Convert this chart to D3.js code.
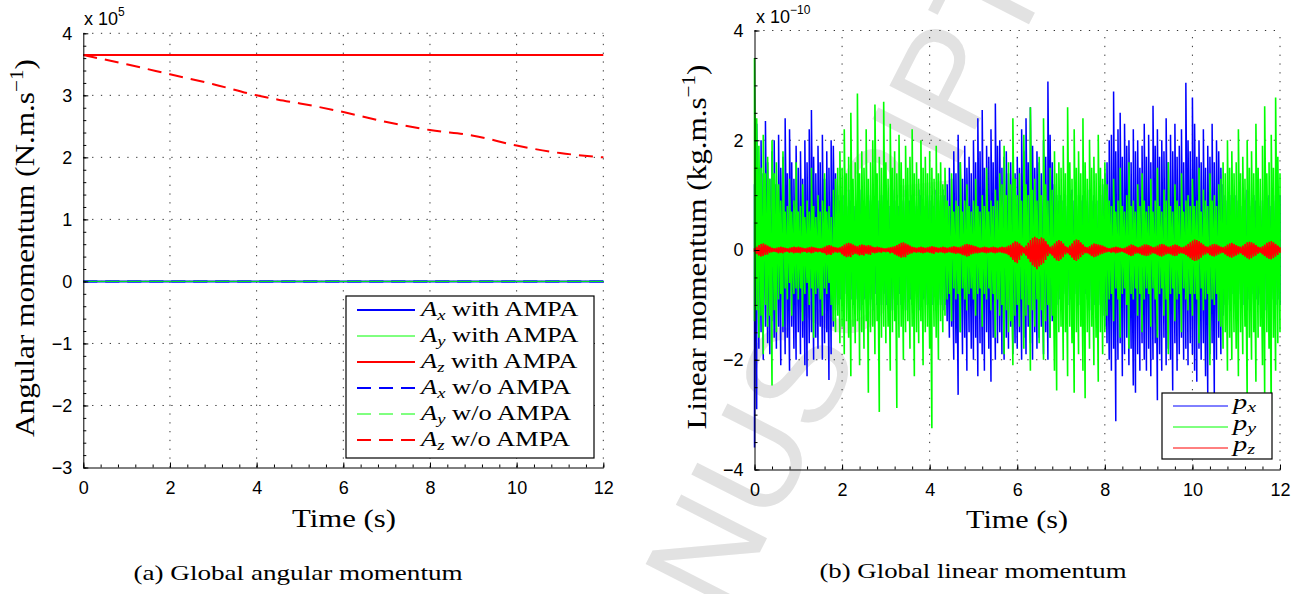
<!DOCTYPE html>
<html><head><meta charset="utf-8">
<script src="https://cdn.jsdelivr.net/npm/d3@7"></script>
<style>body{margin:0;background:#fff}svg{display:block}</style>
</head><body><svg id="c" width="1314" height="594"></svg>
<script>
// ---------------- DATA ----------------
// (a) Global angular momentum, x 1e5
const timeA = [0,1,2,3,4,4.5,5,6,7,8,9,10,11,12];
const azWithout = [3.65,3.50,3.34,3.18,3.0,2.93,2.87,2.73,2.57,2.44,2.35,2.19,2.07,2.0];
const timeConst = [0,12];
const axWith = [0,0];
const ayWith = [0,0];
const azWith = [3.65,3.65];
const axWithout = [0,0];
const ayWithout = [0,0];
const xTicks = [0,2,4,6,8,10,12];
const yTicksA = [-3,-2,-1,0,1,2,3,4];
const yTicksB = [-4,-2,0,2,4];
const legendA = ["with AMPA","with AMPA","with AMPA","w/o AMPA","w/o AMPA","w/o AMPA"];
const legendSubA = ["x","y","z","x","y","z"];
const legendSubB = ["x","y","z"];

// (b) Global linear momentum, x 1e-10 : per-window max / min, window 0.05 s
const dtB = 0.05;
const pxHi = [
1.2,2.3,1.5,2.0,1.4,2.35,1.6,1.3,1.8,2.0,1.2,2.1,1.5,1.7,2.4,1.4,2.2,1.6,1.3,1.9,
1.5,1.8,1.3,2.0,1.6,2.2,2.55,1.7,1.4,1.9,1.6,2.1,1.3,1.8,1.5,2.0,1.9,1.4,1.0,0.9,
0.9,1.0,0.8,1.1,0.9,1.0,0.8,0.9,1.1,1.0,0.9,0.8,1.0,0.9,1.1,0.8,1.0,0.9,1.0,0.8,
1.0,0.9,0.8,1.1,0.9,1.0,0.8,1.0,0.9,1.1,0.8,0.9,1.0,0.9,0.8,1.1,1.0,0.9,0.8,1.0,
0.9,1.0,0.8,1.1,0.9,1.0,1.1,1.0,1.2,1.5,1.3,1.8,1.4,2.1,1.6,1.3,1.9,1.5,1.7,1.4,
2.0,1.6,2.4,1.8,2.55,1.5,1.9,1.7,2.2,1.6,2.67,1.9,2.0,1.5,1.7,1.8,1.4,1.6,1.3,1.4,
1.7,1.5,2.2,1.8,2.4,1.6,2.6,1.9,1.5,1.8,1.6,1.4,2.0,1.7,3.07,2.1,1.6,1.2,1.0,0.9,
1.0,0.9,0.8,1.0,0.9,1.1,0.9,0.8,1.0,0.9,1.0,0.8,0.9,1.1,0.9,1.0,0.8,0.9,1.0,1.2,
1.4,1.6,2.0,2.1,2.89,1.8,2.2,2.5,1.7,2.3,1.9,2.0,1.6,2.2,1.8,2.0,1.5,1.9,2.3,1.7,
2.1,1.6,2.63,1.9,2.2,1.7,2.0,1.8,2.4,1.6,2.1,1.8,2.3,1.7,1.9,2.2,1.6,3.05,2.0,1.8,
2.78,2.3,1.7,2.0,1.6,2.2,1.5,1.9,1.7,2.3,1.6,2.0,1.8,1.5,1.2,1.0,0.9,1.0,0.8,0.9,
1.0,0.9,0.8,1.0,0.9,1.1,0.9,0.8,1.0,0.9,1.0,0.8,0.9,1.1,0.9,1.0,0.8,0.9,1.0,0.9,1.0];
const pxLo = [
-3.6,-2.9,-1.8,-1.5,-2.0,-1.4,-1.7,-1.9,-1.3,-1.6,-1.8,-1.4,-2.1,-1.5,-1.9,-1.6,-2.2,-1.4,-1.8,-2.0,
-1.5,-1.9,-1.6,-2.1,-2.3,-1.7,-1.5,-2.0,-1.6,-1.8,-1.4,-2.0,-1.7,-1.5,-2.37,-1.9,-1.4,-1.1,-1.0,-0.9,
-0.9,-1.0,-0.8,-1.1,-0.9,-1.0,-0.8,-0.9,-1.1,-1.0,-0.9,-0.8,-1.0,-0.9,-1.1,-0.8,-1.0,-0.9,-1.0,-0.8,
-1.0,-0.9,-0.8,-1.1,-0.9,-1.0,-0.8,-1.0,-0.9,-1.1,-0.8,-0.9,-1.0,-0.9,-0.8,-1.1,-1.0,-0.9,-0.8,-1.0,
-0.9,-1.0,-0.8,-1.1,-0.9,-1.0,-1.1,-1.0,-1.3,-1.6,-1.4,-2.0,-1.7,-2.64,-1.5,-1.9,-1.6,-2.2,-1.5,-1.8,
-2.0,-1.6,-2.3,-1.7,-1.9,-2.2,-1.5,-1.8,-2.4,-1.6,-2.0,-1.7,-1.5,-1.9,-2.0,-1.6,-1.8,-1.4,-1.9,-1.7,
-1.8,-1.5,-2.0,-1.6,-1.9,-1.4,-1.7,-2.0,-1.5,-1.8,-1.6,-1.4,-1.9,-1.5,-2.0,-1.6,-1.3,-1.1,-1.0,-0.9,
-1.0,-0.9,-0.8,-1.0,-0.9,-1.1,-0.9,-0.8,-1.0,-0.9,-1.0,-0.8,-0.9,-1.1,-0.9,-1.0,-0.8,-0.9,-1.0,-1.2,
-1.4,-1.7,-2.0,-2.2,-1.8,-3.12,-2.0,-1.7,-2.3,-1.9,-1.6,-2.1,-1.8,-2.47,-2.6,-1.9,-2.2,-1.7,-2.0,-2.2,
-1.8,-2.3,-2.0,-1.7,-2.74,-1.9,-2.2,-1.6,-2.1,-1.8,-2.0,-2.56,-1.7,-2.2,-1.9,-1.6,-2.0,-1.8,-2.1,-1.7,
-1.9,-2.2,-2.4,-1.8,-2.0,-1.7,-2.3,-2.6,-1.9,-1.7,-2.68,-2.0,-1.6,-1.9,-1.2,-1.0,-0.9,-1.0,-0.8,-0.9,
-1.0,-0.9,-0.8,-1.0,-0.9,-1.1,-0.9,-0.8,-1.0,-0.9,-1.0,-0.8,-0.9,-1.1,-0.9,-1.0,-0.8,-0.9,-1.0,-0.9,-1.0];
const pyHi = [
3.5,2.4,1.9,1.5,2.1,1.4,1.7,1.3,2.0,1.4,1.6,1.2,0.9,1.8,0.7,0.8,1.3,0.7,0.9,1.6,
0.7,0.8,1.2,0.6,0.9,0.7,1.5,0.8,0.6,1.0,0.7,0.9,1.4,0.7,0.8,0.6,1.1,1.3,1.5,1.8,
1.5,2.2,1.4,1.7,2.5,1.3,1.6,2.85,1.4,1.8,1.5,2.2,1.3,1.6,2.0,2.65,1.4,1.7,1.5,2.7,
1.6,1.3,2.3,1.5,1.8,1.4,2.1,1.6,1.3,1.9,1.5,1.7,2.2,1.4,1.6,1.3,2.0,1.5,1.7,1.4,
1.8,1.5,1.3,1.9,1.4,1.6,1.2,1.5,0.9,0.8,1.4,0.7,0.9,0.8,1.6,0.7,0.9,1.2,0.8,0.7,
0.9,1.3,0.8,0.7,1.0,0.8,1.5,0.7,0.9,0.8,1.1,0.9,1.4,1.2,1.9,1.0,1.6,1.2,2.4,1.3,
1.0,1.4,0.9,2.1,1.2,1.0,2.6,1.1,1.3,0.9,1.7,1.0,2.4,1.2,0.9,1.5,1.1,1.8,1.4,1.6,
1.5,1.9,1.4,2.6,1.6,1.3,2.2,1.5,1.8,1.4,2.4,1.6,1.3,2.0,1.5,1.7,1.4,2.1,1.5,1.3,
1.6,1.2,0.9,0.8,1.3,0.7,0.9,1.5,0.8,0.7,1.0,1.6,0.8,0.9,0.7,1.2,0.8,1.4,0.9,0.7,
0.8,1.3,0.7,0.9,1.5,0.8,0.7,1.1,0.9,1.6,0.8,0.7,1.2,0.9,0.8,1.4,0.7,0.9,1.0,0.8,
1.3,0.8,0.9,1.5,0.7,1.1,0.9,0.8,1.4,0.9,1.0,0.8,1.2,1.3,1.6,1.4,2.0,1.5,1.8,1.4,
1.6,2.2,1.4,1.7,1.3,2.0,1.5,1.8,1.4,2.3,1.5,1.3,1.9,2.62,1.4,1.6,2.1,1.5,2.78,1.7,1.4];
const pyLo = [
-1.3,-1.1,-1.6,-1.2,-1.9,-1.0,-1.4,-1.2,-2.47,-1.1,-1.5,-0.9,-0.8,-1.4,-0.7,-0.9,-0.6,-1.2,-0.8,-0.7,
-0.9,-0.7,-1.3,-0.8,-0.6,-1.0,-0.7,-1.6,-0.8,-0.7,-0.9,-1.2,-0.7,-0.8,-0.6,-1.0,-1.3,-1.5,-1.2,-1.7,
-1.4,-1.9,-1.3,-1.6,-2.3,-1.4,-1.7,-1.3,-2.1,-1.5,-1.8,-1.3,-2.6,-1.5,-1.4,-1.9,-1.3,-2.95,-1.6,-1.4,
-1.7,-1.4,-2.2,-1.5,-1.3,-2.88,-1.6,-1.4,-2.0,-1.5,-1.3,-1.8,-1.4,-2.3,-1.5,-1.7,-1.3,-2.1,-1.5,-1.4,
-1.8,-3.25,-1.4,-1.6,-2.0,-1.3,-1.5,-1.2,-0.9,-0.8,-1.3,-0.7,-0.9,-0.8,-1.5,-0.7,-0.9,-1.1,-0.8,-0.7,
-0.9,-1.2,-0.8,-0.7,-1.4,-0.8,-0.9,-0.7,-1.1,-0.8,-1.6,-0.9,-1.2,-1.0,-1.9,-1.1,-1.5,-1.3,-2.1,-1.2,
-1.0,-1.4,-0.9,-1.8,-1.2,-1.0,-2.2,-1.1,-1.4,-0.9,-1.7,-1.1,-2.0,-1.3,-1.0,-1.6,-1.2,-2.2,-2.56,-1.5,
-1.4,-2.0,-1.5,-2.3,-1.4,-1.7,-2.6,-1.5,-1.9,-1.4,-2.2,-2.7,-1.5,-1.8,-1.4,-2.1,-1.6,-2.4,-1.5,-1.9,
-1.5,-1.2,-0.9,-0.8,-1.3,-0.7,-0.9,-1.6,-0.8,-0.7,-1.0,-1.8,-0.8,-0.9,-0.7,-1.2,-0.8,-1.5,-0.9,-0.7,
-0.8,-1.4,-0.7,-0.9,-1.6,-0.8,-0.7,-1.2,-0.9,-1.9,-0.8,-0.7,-1.3,-0.9,-0.8,-1.5,-0.7,-0.9,-1.1,-0.8,
-1.2,-0.8,-0.9,-1.7,-0.7,-1.1,-0.9,-0.8,-2.1,-0.9,-1.0,-0.8,-1.3,-1.4,-1.8,-1.5,-2.2,-1.6,-2.0,-1.5,
-1.8,-2.3,-1.5,-1.9,-1.4,-2.7,-1.6,-2.0,-1.5,-2.4,-1.6,-1.4,-2.1,-2.6,-1.5,-1.8,-3.0,-1.6,-2.2,-1.7,-1.5];
const pzHi = [
0.03,0.06,0.09,0.11,0.12,0.1,0.08,0.06,0.04,0.03,0.04,0.05,0.06,0.05,0.04,0.03,0.04,0.05,0.06,0.05,
0.06,0.05,0.04,0.03,0.04,0.05,0.06,0.05,0.04,0.03,0.03,0.04,0.06,0.08,0.09,0.08,0.06,0.05,0.04,0.05,
0.07,0.1,0.12,0.13,0.12,0.1,0.08,0.07,0.09,0.1,0.09,0.08,0.09,0.08,0.06,0.05,0.06,0.05,0.04,0.03,
0.03,0.04,0.05,0.06,0.07,0.09,0.11,0.13,0.14,0.12,0.1,0.08,0.06,0.05,0.04,0.05,0.06,0.05,0.04,0.05,
0.06,0.07,0.06,0.05,0.04,0.05,0.06,0.05,0.04,0.05,0.06,0.07,0.06,0.05,0.06,0.08,0.1,0.11,0.1,0.09,
0.08,0.07,0.05,0.04,0.05,0.06,0.05,0.04,0.05,0.06,0.05,0.04,0.05,0.06,0.05,0.06,0.08,0.1,0.13,0.16,
0.15,0.12,0.08,0.05,0.08,0.13,0.18,0.22,0.24,0.22,0.2,0.23,0.21,0.16,0.1,0.06,0.08,0.12,0.16,0.18,
0.16,0.12,0.07,0.05,0.08,0.12,0.17,0.19,0.18,0.14,0.1,0.06,0.05,0.07,0.1,0.12,0.11,0.1,0.09,0.08,
0.06,0.04,0.03,0.04,0.05,0.06,0.05,0.04,0.03,0.04,0.06,0.08,0.1,0.09,0.07,0.05,0.06,0.08,0.1,0.1,
0.09,0.07,0.05,0.06,0.08,0.1,0.11,0.1,0.08,0.06,0.07,0.09,0.1,0.09,0.07,0.05,0.06,0.08,0.11,0.14,
0.17,0.19,0.18,0.16,0.13,0.1,0.07,0.06,0.08,0.1,0.11,0.1,0.08,0.06,0.05,0.07,0.1,0.12,0.13,0.11,
0.09,0.07,0.06,0.08,0.11,0.14,0.15,0.14,0.12,0.09,0.06,0.05,0.07,0.1,0.13,0.15,0.16,0.14,0.11,0.08,0.05];
const pzLo = [
-0.03,-0.07,-0.1,-0.12,-0.11,-0.09,-0.08,-0.05,-0.04,-0.03,-0.04,-0.06,-0.05,-0.06,-0.04,-0.03,-0.05,-0.04,-0.06,-0.05,
-0.05,-0.06,-0.04,-0.03,-0.05,-0.04,-0.06,-0.05,-0.03,-0.04,-0.03,-0.05,-0.06,-0.09,-0.08,-0.09,-0.06,-0.04,-0.05,-0.04,
-0.08,-0.11,-0.13,-0.12,-0.13,-0.09,-0.07,-0.08,-0.1,-0.09,-0.1,-0.07,-0.08,-0.09,-0.05,-0.06,-0.05,-0.04,-0.05,-0.03,
-0.04,-0.03,-0.06,-0.05,-0.08,-0.1,-0.12,-0.14,-0.13,-0.13,-0.09,-0.07,-0.06,-0.04,-0.05,-0.04,-0.05,-0.06,-0.05,-0.04,
-0.05,-0.06,-0.07,-0.04,-0.05,-0.04,-0.05,-0.06,-0.05,-0.04,-0.05,-0.06,-0.07,-0.06,-0.07,-0.09,-0.1,-0.12,-0.11,-0.08,
-0.07,-0.06,-0.06,-0.05,-0.04,-0.05,-0.06,-0.05,-0.04,-0.05,-0.06,-0.05,-0.04,-0.05,-0.06,-0.07,-0.09,-0.13,-0.18,-0.22,
-0.24,-0.18,-0.1,-0.06,-0.1,-0.16,-0.22,-0.28,-0.31,-0.35,-0.3,-0.27,-0.24,-0.18,-0.11,-0.07,-0.1,-0.15,-0.19,-0.2,
-0.17,-0.13,-0.08,-0.06,-0.09,-0.14,-0.18,-0.2,-0.17,-0.13,-0.09,-0.06,-0.06,-0.08,-0.11,-0.13,-0.12,-0.1,-0.08,-0.07,
-0.05,-0.04,-0.03,-0.05,-0.04,-0.06,-0.05,-0.04,-0.03,-0.05,-0.07,-0.09,-0.11,-0.1,-0.07,-0.06,-0.07,-0.09,-0.1,-0.11,
-0.1,-0.08,-0.06,-0.07,-0.09,-0.11,-0.12,-0.1,-0.08,-0.07,-0.08,-0.1,-0.11,-0.1,-0.07,-0.06,-0.07,-0.09,-0.12,-0.15,
-0.18,-0.2,-0.19,-0.17,-0.14,-0.1,-0.08,-0.06,-0.09,-0.11,-0.12,-0.1,-0.08,-0.06,-0.05,-0.08,-0.11,-0.13,-0.14,-0.12,
-0.1,-0.08,-0.06,-0.09,-0.12,-0.15,-0.17,-0.15,-0.12,-0.1,-0.07,-0.05,-0.08,-0.11,-0.14,-0.16,-0.17,-0.15,-0.12,-0.09,-0.05];

// ---------------- DRAWING ----------------
const svg = d3.select('#c');
const serif = "'Liberation Serif','Times New Roman',serif";
const sans = "'Liberation Sans',Arial,Helvetica,sans-serif";
svg.append('rect').attr('width',1314).attr('height',594).attr('fill','#fff');

// watermark
svg.append('text').attr('transform','translate(631,805) rotate(-63)')
  .attr('font-family',sans).attr('font-size',140).attr('fill','#e2e2e2').text('MANUSCRIPT');

function addLabel(parent, o) {
  const g = parent.append('g').attr('transform', `translate(${o.x},${o.y})` + (o.rot ? ` rotate(${o.rot})` : ''));
  const t = g.append('text').attr('font-family', o.font || serif).attr('font-size', o.size)
    .attr('text-anchor', o.anchor || 'middle').attr('fill', '#000');
  o.parts.forEach(p => {
    const ts = t.append('tspan').text(p.t);
    if (p.size) ts.attr('font-size', p.size);
    if (p.dy) ts.attr('dy', p.dy);
    if (p.italic) ts.attr('font-style', 'italic');
  });
  let sx = o.sx || 1;
  if (o.target) { const w = t.node().getBBox().width; if (w > 0) sx = o.target / w; }
  if (sx !== 1) t.attr('transform', `scale(${sx},1)`);
  return sx;
}

function drawFrame(xs, ys, yTicks) {
  const g = svg.append('g');
  const [x0, x1] = xs.range(), [yb, yt] = ys.range();
  g.selectAll('line.gx').data(xTicks.filter(v => v !== xs.domain()[0])).join('line')
    .attr('x1', d => xs(d)).attr('x2', d => xs(d)).attr('y1', yb).attr('y2', yt)
    .attr('stroke', '#333').attr('stroke-width', 1).attr('stroke-dasharray', '1.3,7.5');
  g.selectAll('line.gy').data(yTicks.filter(v => v !== ys.domain()[0])).join('line')
    .attr('y1', d => ys(d)).attr('y2', d => ys(d)).attr('x1', x0).attr('x2', x1)
    .attr('stroke', '#333').attr('stroke-width', 1).attr('stroke-dasharray', '1.3,7.5');
  return g;
}

function drawAxes(xs, ys, yTicks, xMinor, yMinor) {
  const [yb] = ys.range(), [x0] = xs.range();
  const gx = svg.append('g').attr('transform', `translate(0,${yb})`)
    .call(d3.axisBottom(xs).tickValues(xTicks).tickSize(-5).tickSizeOuter(0).tickPadding(14).tickFormat(d3.format('d')));
  svg.append('g').attr('transform', `translate(0,${yb})`)
    .call(d3.axisBottom(xs).tickValues(xMinor).tickSize(-3).tickSizeOuter(0).tickFormat(''))
    .call(g => g.select('.domain').remove());
  const gy = svg.append('g').attr('transform', `translate(${x0},0)`)
    .call(d3.axisLeft(ys).tickValues(yTicks).tickSize(-5).tickSizeOuter(0).tickPadding(11).tickFormat(d3.format('d')));
  svg.append('g').attr('transform', `translate(${x0},0)`)
    .call(d3.axisLeft(ys).tickValues(yMinor).tickSize(-3).tickSizeOuter(0).tickFormat(''))
    .call(g => g.select('.domain').remove());
  [gx, gy].forEach(g => {
    g.attr('font-family', sans).attr('font-size', 18);
    g.selectAll('text').attr('fill', '#000');
    g.selectAll('line,path').attr('stroke', '#000');
  });
}

// ======== Chart (a) ========
const xA = d3.scaleLinear().domain([0, 12]).range([83.3, 603.3]);
const yA = d3.scaleLinear().domain([-3, 4]).range([467.5, 33.3]);
drawFrame(xA, yA, yTicksA);

const seriesA = [
  {t: timeConst, v: axWith, c: '#0000ff', w: 2, dash: null},
  {t: timeConst, v: ayWith, c: '#00ff00', w: 1, dash: null},
  {t: timeConst, v: azWith, c: '#ff0000', w: 2, dash: null},
  {t: timeConst, v: axWithout, c: '#0000ff', w: 2, dash: '14,8'},
  {t: timeConst, v: ayWithout, c: '#00ff00', w: 1, dash: '14,8'},
  {t: timeA, v: azWithout, c: '#ff0000', w: 2, dash: '14,8'}
];
const lineA = d3.line().x(d => xA(d[0])).y(d => yA(d[1])).curve(d3.curveMonotoneX);
seriesA.forEach(s => {
  svg.append('path').datum(s.t.map((t, i) => [t, s.v[i]]))
    .attr('d', lineA).attr('fill', 'none').attr('stroke', s.c).attr('stroke-width', s.w)
    .attr('stroke-dasharray', s.dash);
});
drawAxes(xA, yA, yTicksA, d3.range(0, 12.001, 0.4), d3.range(-3, 4.001, 0.2));

addLabel(svg, {x: 84, y: 25, anchor: 'start', font: sans, size: 18,
  parts: [{t: 'x 10'}, {t: '5', size: 12, dy: -9}]});

// legend (a)
const legG = svg.append('g');
legG.append('rect').attr('x', 346).attr('y', 296).attr('width', 248).attr('height', 162)
  .attr('fill', '#fff').attr('stroke', '#000').attr('stroke-width', 1.2);
let sxLeg = null;
seriesA.forEach((s, i) => {
  const y = 310 + 26 * i;
  legG.append('line').attr('x1', 357).attr('x2', 415).attr('y1', y).attr('y2', y)
    .attr('stroke', s.c).attr('stroke-width', s.w).attr('stroke-dasharray', s.dash);
  const parts = [{t: 'A', italic: true}, {t: legendSubA[i], italic: true, size: 14, dy: 4}, {t: ' ' + legendA[i], dy: -4}];
  const r = addLabel(legG, {x: 421, y: y + 6, anchor: 'start', size: 20, parts, target: sxLeg ? null : 161, sx: sxLeg || 1});
  if (!sxLeg) sxLeg = r;
});

addLabel(svg, {x: 344, y: 527, size: 26, parts: [{t: 'Time (s)'}], target: 104});
addLabel(svg, {x: 34, y: 248, rot: -90, size: 28,
  parts: [{t: 'Angular momentum (N.m.s'}, {t: '\u22121', size: 19, dy: -11}, {t: ')', dy: 11}], target: 378});
addLabel(svg, {x: 298, y: 580, size: 20, parts: [{t: '(a) Global angular momentum'}], target: 330});

// ======== Chart (b) ========
const xB = d3.scaleLinear().domain([0, 12]).range([754.5, 1280]);
const yB = d3.scaleLinear().domain([-4, 4]).range([469.5, 30.5]);
drawFrame(xB, yB, yTicksB);

function bandPoints(hi, lo) {
  const n = Math.min(hi.length, lo.length), pts = [];
  for (let i = 0; i < n; i++) { const t = i * dtB; pts.push([t, lo[i]], [t, hi[i]]); }
  return pts;
}
const lineB = d3.line().x(d => xB(d[0])).y(d => yB(d[1]));
const seriesB = [
  {hi: pxHi, lo: pxLo, c: '#0000ff', w: 1.5},
  {hi: pyHi, lo: pyLo, c: '#00ff00', w: 1.6},
  {hi: pzHi, lo: pzLo, c: '#ff0000', w: 1.6}
];
seriesB.forEach(s => {
  svg.append('path').datum(bandPoints(s.hi, s.lo)).attr('d', lineB)
    .attr('fill', 'none').attr('stroke', s.c).attr('stroke-width', s.w)
    .attr('stroke-linejoin', 'bevel');
});
drawAxes(xB, yB, yTicksB, d3.range(0, 12.001, 0.4), d3.range(-4, 4.001, 0.5));

addLabel(svg, {x: 756, y: 23, anchor: 'start', font: sans, size: 18,
  parts: [{t: 'x 10'}, {t: '\u221210', size: 12, dy: -9}]});

// legend (b)
const legB = svg.append('g');
legB.append('rect').attr('x', 1162).attr('y', 393).attr('width', 110).attr('height', 66)
  .attr('fill', '#fff').attr('stroke', '#000').attr('stroke-width', 1.2);
let sxLegB = null;
seriesB.forEach((s, i) => {
  const y = 406 + 21 * i;
  legB.append('line').attr('x1', 1173).attr('x2', 1228).attr('y1', y).attr('y2', y)
    .attr('stroke', s.c).attr('stroke-width', 1);
  const parts = [{t: 'p', italic: true}, {t: legendSubB[i], italic: true, size: 14, dy: 3}];
  const r = addLabel(legB, {x: 1233, y: y + 3, anchor: 'start', size: 20, parts, target: sxLegB ? null : 27, sx: sxLegB || 1});
  if (!sxLegB) sxLegB = r;
});

addLabel(svg, {x: 1017, y: 528, size: 26, parts: [{t: 'Time (s)'}], target: 102});
addLabel(svg, {x: 706, y: 247, rot: -90, size: 28,
  parts: [{t: 'Linear momentum (kg.m.s'}, {t: '\u22121', size: 19, dy: -11}, {t: ')', dy: 11}], target: 365});
addLabel(svg, {x: 973, y: 578, size: 20, parts: [{t: '(b) Global linear momentum'}], target: 308});
</script></body></html>
